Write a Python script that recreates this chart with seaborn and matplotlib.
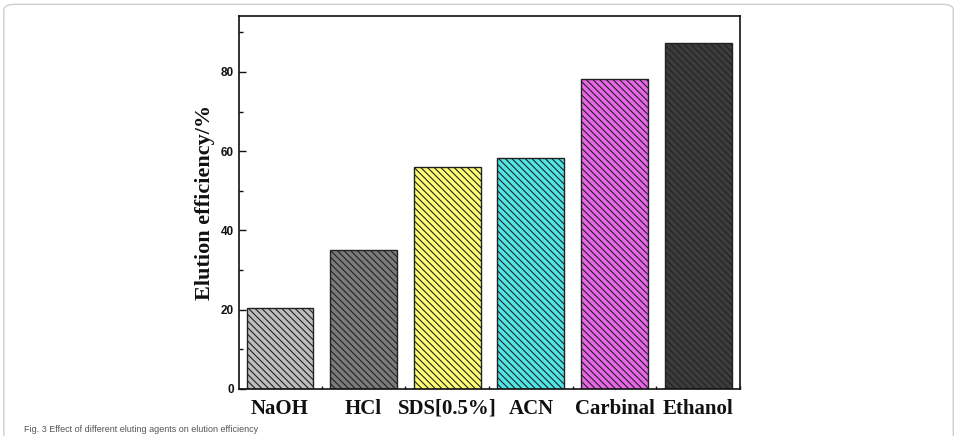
import matplotlib
matplotlib.use("Agg")
import matplotlib.pyplot as plt
import seaborn as sns
import pandas as pd
from matplotlib.patches import FancyBboxPatch
from matplotlib.ticker import MultipleLocator, FixedLocator

sns.set_style("ticks")
plt.rcParams['hatch.linewidth'] = 0.8

# data
eluents = ['NaOH', 'HCl', 'SDS[0.5%]', 'ACN', 'Carbinal', 'Ethanol']
efficiency = [20.4, 35.1, 56.0, 58.3, 78.2, 87.3]
bar_colors = ['#bdbdbd', '#7b7b7b', '#ffff73', '#4fe6e6', '#e866e8', '#3c3c3c']

df = pd.DataFrame({'eluent': eluents, 'efficiency': efficiency})

fig = plt.figure(figsize=(9.59, 4.36), dpi=100)
ax = fig.add_axes([0.2492, 0.1078, 0.5224, 0.8555])

sns.barplot(data=df, x='eluent', y='efficiency', hue='eluent', palette=bar_colors,
            saturation=1, width=0.8, edgecolor='#222222', linewidth=1.0,
            legend=False, ax=ax)
for p in ax.patches:
    p.set_hatch('\\\\\\\\\\')

ax.set_xlim(-0.49, 5.5)
ax.set_ylim(0, 94.1)
ax.yaxis.set_major_locator(MultipleLocator(20))
ax.yaxis.set_minor_locator(MultipleLocator(10))
ax.xaxis.set_minor_locator(FixedLocator([i + 0.5 for i in range(-1, 6)]))
ax.tick_params(axis='both', which='both', direction='in', top=False, right=False,
               colors='#111111')
ax.tick_params(axis='y', which='major', length=5, width=1.0)
ax.tick_params(axis='y', which='minor', length=3, width=1.0)
ax.tick_params(axis='x', which='major', length=4, width=1.0, pad=7)
ax.tick_params(axis='x', which='minor', length=2, width=1.0)

for s in ax.spines.values():
    s.set_linewidth(1.2)
    s.set_color('#111111')

ax.set_xlabel('')
ax.set_ylabel('Elution efficiency/%', family='Liberation Serif', fontweight='bold',
              fontsize=16, labelpad=4, color='#111111')
for lbl in ax.get_yticklabels():
    lbl.set_family('Liberation Sans')
    lbl.set_fontweight('bold')
    lbl.set_fontsize(8.5)
for lbl in ax.get_xticklabels():
    lbl.set_family('Liberation Serif')
    lbl.set_fontweight('bold')
    lbl.set_fontsize(15)

# caption and frame
fig.text(0.025, 0.004, 'Fig. 3 Effect of different eluting agents on elution efficiency',
         fontsize=6.5, color='#555555', family='Liberation Sans', va='bottom')
frame = FancyBboxPatch((0.004, -0.05), 0.99, 1.04, boxstyle='round,pad=0,rounding_size=0.012',
                       transform=fig.transFigure, fill=False, edgecolor='#cfcfcf', linewidth=1.0)
fig.patches.append(frame)

fig.savefig('out.png', dpi=100)
